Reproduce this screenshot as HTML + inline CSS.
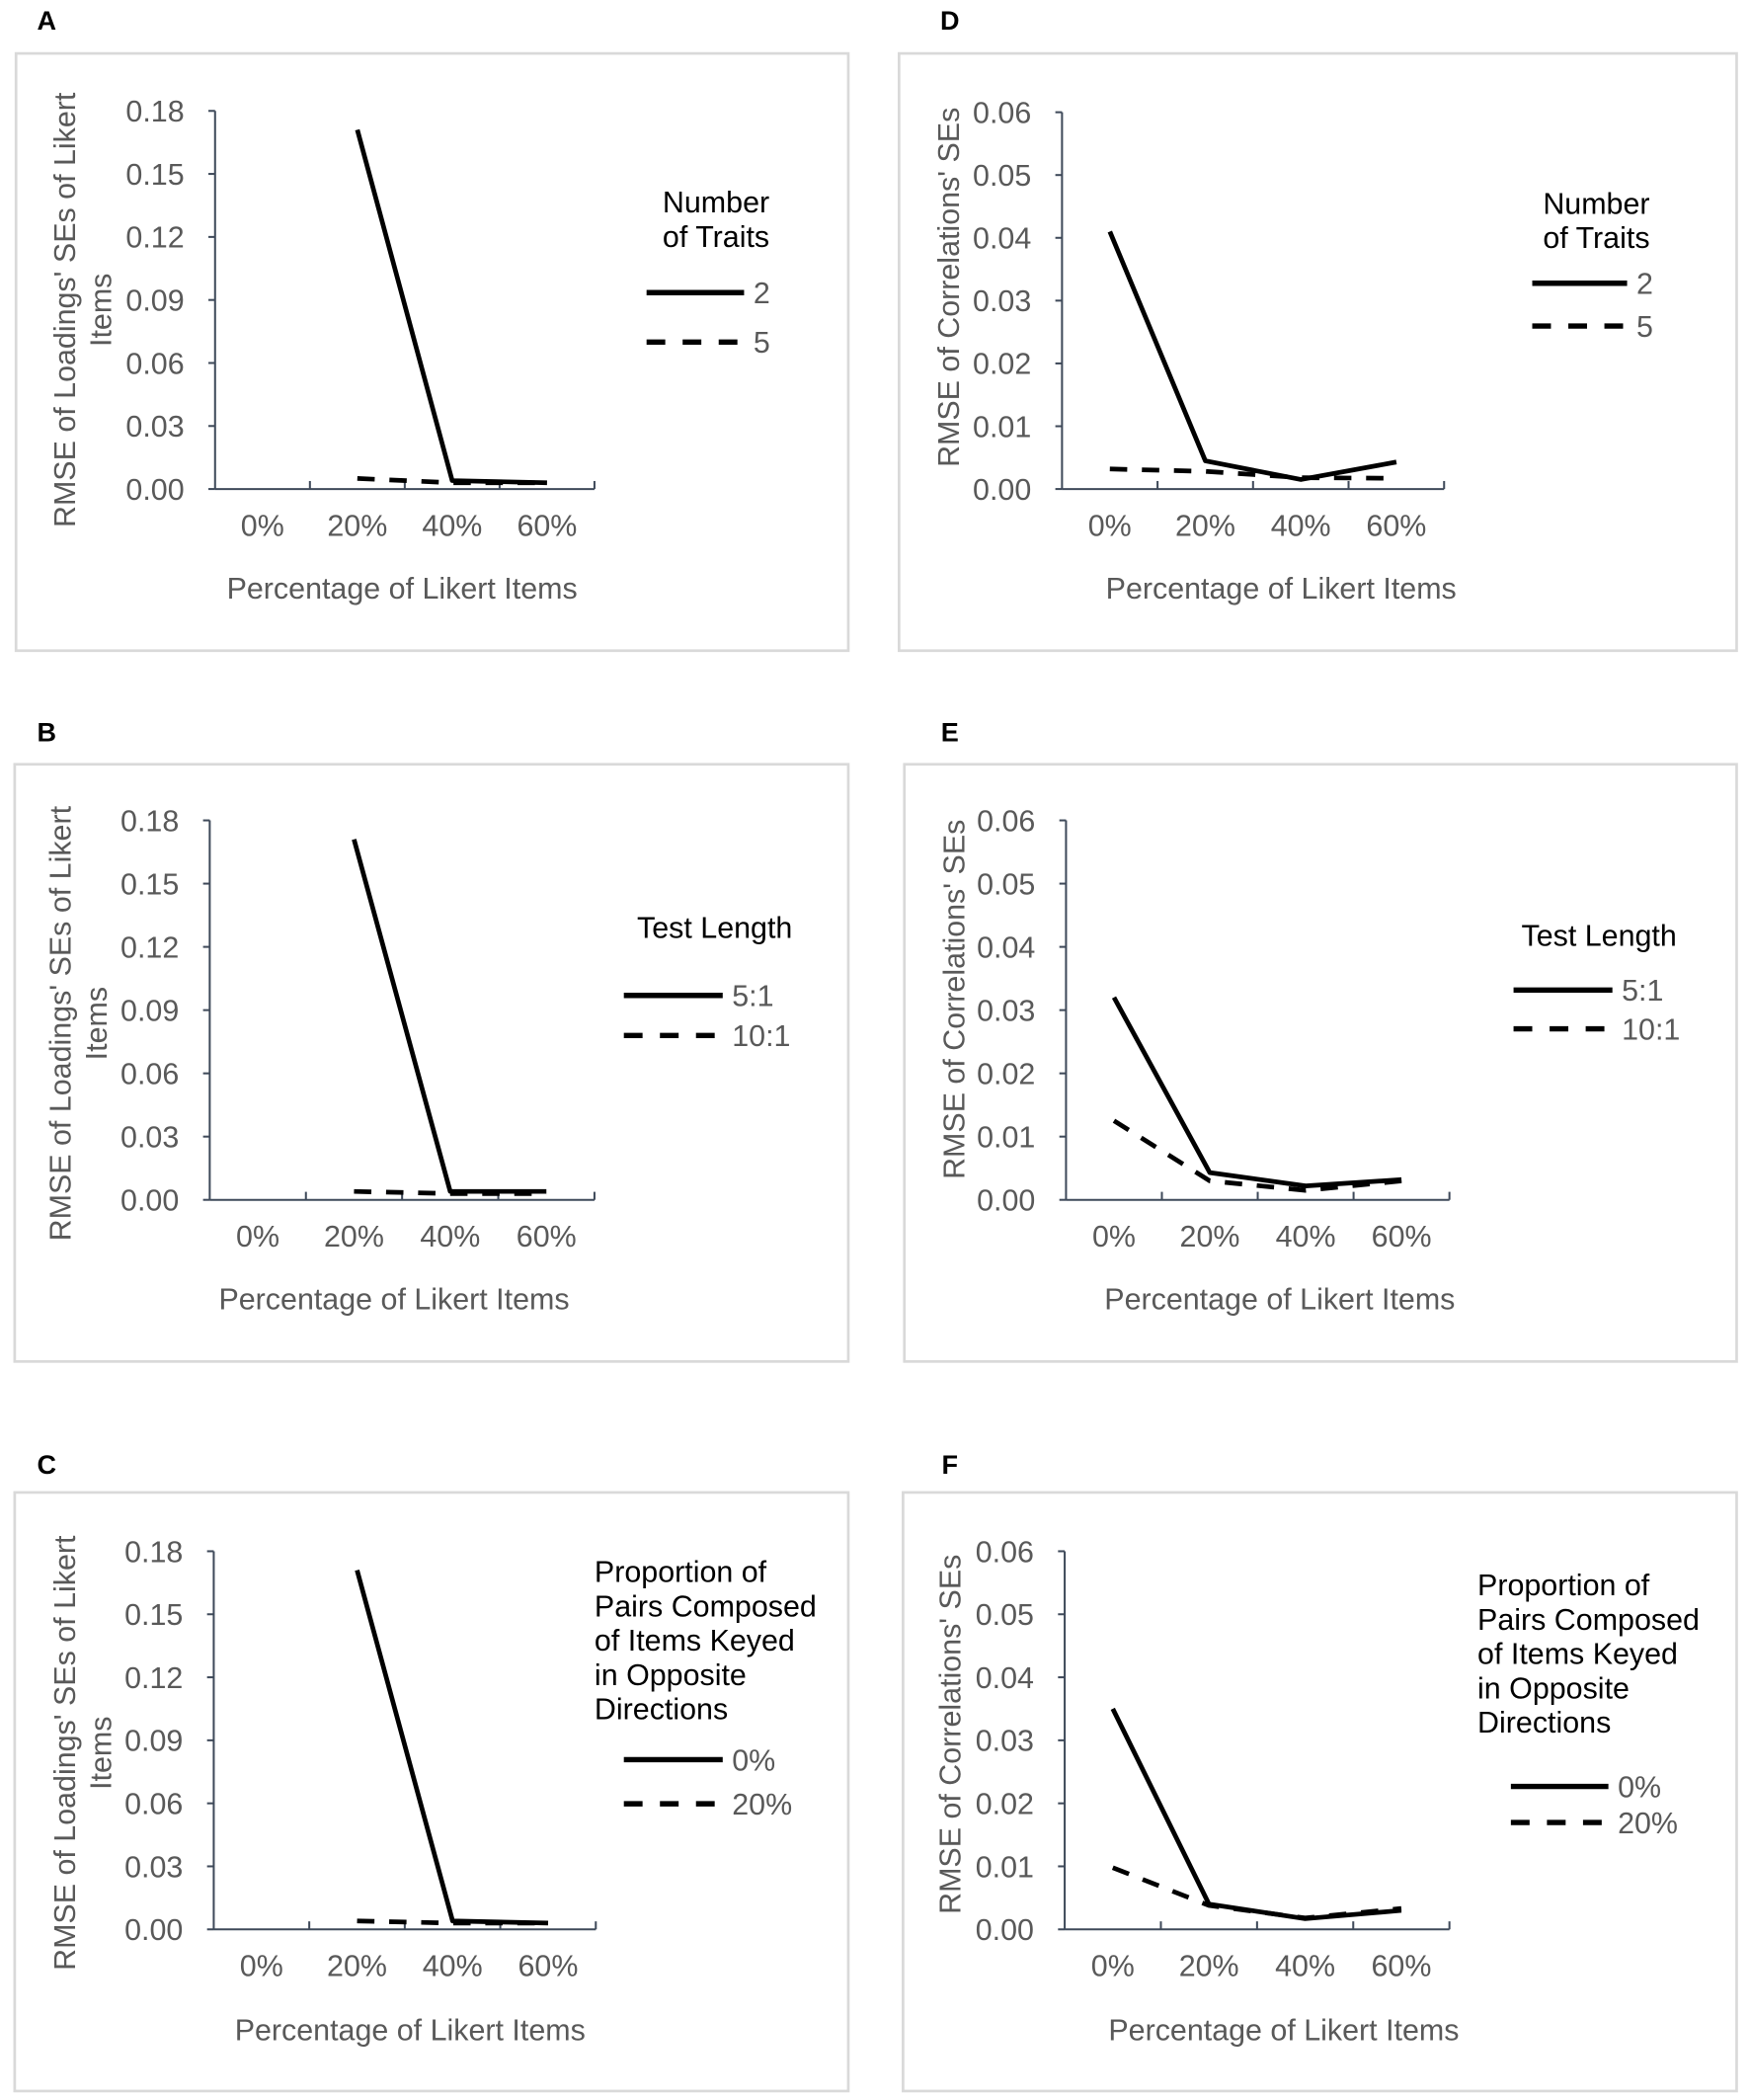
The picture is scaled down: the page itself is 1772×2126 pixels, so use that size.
<!DOCTYPE html>
<html><head><meta charset="utf-8"><style>
html,body{margin:0;padding:0;background:#fff;}
svg{display:block;}
text{font-family:"Liberation Sans",sans-serif;}
</style></head><body>
<svg id="fig" width="1772" height="2126" viewBox="0 0 1310 1571.7" preserveAspectRatio="none" xmlns="http://www.w3.org/2000/svg"></svg>
<script>
const categories = ["0%","20%","40%","60%"];
const loadTicks = ["0.00","0.03","0.06","0.09","0.12","0.15","0.18"];
const corrTicks = ["0.00","0.01","0.02","0.03","0.04","0.05","0.06"];
const aSolid = [null,0.171,0.004,0.003];
const aDashed = [null,0.005,0.003,0.003];
const bSolid = [null,0.171,0.004,0.004];
const bDashed = [null,0.004,0.003,0.003];
const cSolid = [null,0.171,0.004,0.003];
const cDashed = [null,0.004,0.003,0.003];
const dSolid = [0.041,0.0045,0.0015,0.0043];
const dDashed = [0.0032,0.0028,0.0018,0.0017];
const eSolid = [0.032,0.0043,0.0022,0.0032];
const eDashed = [0.0125,0.003,0.0015,0.003];
const fSolid = [0.035,0.004,0.0017,0.003];
const fDashed = [0.0098,0.0038,0.0018,0.0033];
const aLegend = ["2","5"], bLegend = ["5:1","10:1"], cLegend = ["0%","20%"];
const dLegend = ["2","5"], eLegend = ["5:1","10:1"], fLegend = ["0%","20%"];

const NS = "http://www.w3.org/2000/svg";
const svg = document.getElementById('fig');
function mk(tag, attrs, parent, txt){
  const e = document.createElementNS(NS, tag);
  for (const k in attrs) e.setAttribute(k, attrs[k]);
  if (txt !== undefined) e.textContent = txt;
  (parent||svg).appendChild(e);
  return e;
}
const FS = 22.5;
const panels = [
 {id:'a',letter:'A',lx:35,ly:15,box:[12,40,623,447],ax:161,ar:445,top:83,bot:366,max:0.18,ticks:loadTicks,
  yl:["RMSE of Loadings' SEs of Likert","Items"],ylx:48,yly:232,xt:301,tickY:393,titleY:440,
  solid:aSolid,dashed:aDashed,legTitle:["Number","of Traits"],legTitleX:536,legTitleY:151,legAnchor:'middle',
  legX1:484,legX2:557,legY:[219,256],leg:aLegend},
 {id:'d',letter:'D',lx:711,ly:15,box:[673,40,627,447],ax:795,ar:1081,top:84,bot:366,max:0.06,ticks:corrTicks,
  yl:["RMSE of Correlations' SEs"],ylx:710,yly:215,xt:959,tickY:393,titleY:440,
  solid:dSolid,dashed:dDashed,legTitle:["Number","of Traits"],legTitleX:1195,legTitleY:152,legAnchor:'middle',
  legX1:1147,legX2:1218,legY:[212,244],leg:dLegend},
 {id:'b',letter:'B',lx:35,ly:548,box:[11,572,624,447],ax:157,ar:445,top:614,bot:898,max:0.18,ticks:loadTicks,
  yl:["RMSE of Loadings' SEs of Likert","Items"],ylx:45,yly:766,xt:295,tickY:925,titleY:972,
  solid:bSolid,dashed:bDashed,legTitle:["Test Length"],legTitleX:535,legTitleY:694,legAnchor:'middle',
  legX1:467,legX2:541,legY:[745,775],leg:bLegend},
 {id:'e',letter:'E',lx:711,ly:548,box:[677,572,623,447],ax:798,ar:1085,top:614,bot:898,max:0.06,ticks:corrTicks,
  yl:["RMSE of Correlations' SEs"],ylx:714,yly:748,xt:958,tickY:925,titleY:972,
  solid:eSolid,dashed:eDashed,legTitle:["Test Length"],legTitleX:1197,legTitleY:700,legAnchor:'middle',
  legX1:1133,legX2:1207,legY:[741,770],leg:eLegend},
 {id:'c',letter:'C',lx:35,ly:1096,box:[11,1117,624,448],ax:160,ar:446,top:1161,bot:1444,max:0.18,ticks:loadTicks,
  yl:["RMSE of Loadings' SEs of Likert","Items"],ylx:48,yly:1312,xt:307,tickY:1471,titleY:1519,
  solid:cSolid,dashed:cDashed,legTitle:["Proportion of","Pairs Composed","of Items Keyed","in Opposite","Directions"],legTitleX:445,legTitleY:1176,legAnchor:'start',
  legX1:467,legX2:541,legY:[1317,1350],leg:cLegend},
 {id:'f',letter:'F',lx:711,ly:1096,box:[676,1117,624,448],ax:797,ar:1085,top:1161,bot:1444,max:0.06,ticks:corrTicks,
  yl:["RMSE of Correlations' SEs"],ylx:711,yly:1298,xt:961,tickY:1471,titleY:1519,
  solid:fSolid,dashed:fDashed,legTitle:["Proportion of","Pairs Composed","of Items Keyed","in Opposite","Directions"],legTitleX:1106,legTitleY:1186,legAnchor:'start',
  legX1:1131,legX2:1204,legY:[1337,1364],leg:fLegend}
];
const AX = '#3f4a5a', TXT = '#595959';
panels.forEach(p => {
  const g = mk('g', {});
  
  
  const lab = mk('text', {x:p.lx, y:p.ly+7, 'font-size':20, 'font-weight':'bold', 'text-anchor':'middle', fill:'#000'}, g, p.letter);
  
  
  const box = mk('rect', {x:p.box[0], y:p.box[1], width:p.box[2], height:p.box[3], fill:'none', stroke:'#d9d9d9', 'stroke-width':2}, g);
  
  
  const n = categories.length;
  const bw = (p.ar - p.ax) / n;
  const xS = i => p.ax + bw * (i + 0.5);
  const yS = v => p.bot - (v / p.max) * (p.bot - p.top);
  const ya = mk('line', {x1:p.ax, y1:p.top, x2:p.ax, y2:p.bot, stroke:AX, 'stroke-width':1.5}, g);
  
  
  p.ticks.forEach((t, i) => {
    const v = p.max * i / (p.ticks.length - 1);
    const y = yS(v);
    mk('line', {x1:p.ax-5, y1:y, x2:p.ax, y2:y, stroke:AX, 'stroke-width':1.5}, g);
    const tl = mk('text', {x:p.ax-23, y:y+8, 'font-size':FS, 'text-anchor':'end', fill:TXT}, g, t);
    
    
  });
  const xa = mk('line', {x1:p.ax, y1:p.bot, x2:p.ar, y2:p.bot, stroke:AX, 'stroke-width':1.5}, g);
  
  
  for (let i = 1; i <= n; i++) {
    mk('line', {x1:p.ax+bw*i, y1:p.bot, x2:p.ax+bw*i, y2:p.bot-6, stroke:AX, 'stroke-width':1.5}, g);
  }
  categories.forEach((c, i) => {
    const tl = mk('text', {x:xS(i), y:p.tickY+8, 'font-size':FS, 'text-anchor':'middle', fill:TXT}, g, c);
    
    
  });
  const xt = mk('text', {x:p.xt, y:p.titleY+8, 'font-size':FS, 'text-anchor':'middle', fill:TXT}, g, 'Percentage of Likert Items');
  
  
  const ytg = mk('g', {transform:'translate(' + p.ylx + ',' + p.yly + ') rotate(-90)'}, g);
  
  
  p.yl.forEach((l, i) => {
    mk('text', {x:0, y:8 + i*27, 'font-size':FS, 'text-anchor':'middle', fill:TXT}, ytg, l);
  });
  [[p.solid, null, 'series-solid'], [p.dashed, '13,11', 'series-dashed']].forEach(([arr, dash, name]) => {
    let pts = [];
    arr.forEach((v, i) => { if (v !== null) pts.push(xS(i).toFixed(1) + ',' + yS(v).toFixed(1)); });
    const attrs = {points:pts.join(' '), fill:'none', stroke:'#000', 'stroke-width':3.5, 'stroke-linejoin':'round'};
    if (dash) attrs['stroke-dasharray'] = dash;
    const pl = mk('polyline', attrs, g);
    
    
  });
  const lg = mk('g', {}, g);
  
  
  p.legTitle.forEach((l, i) => {
    mk('text', {x:p.legTitleX, y:p.legTitleY + 8 + i*25.7, 'font-size':FS, 'text-anchor':p.legAnchor, fill:'#000'}, lg, l);
  });
  p.leg.forEach((l, i) => {
    const ent = mk('g', {}, lg);
    
    
    const la = {x1:p.legX1, y1:p.legY[i], x2:p.legX2, y2:p.legY[i], stroke:'#000', 'stroke-width':4};
    if (i === 1) la['stroke-dasharray'] = '14,13';
    mk('line', la, ent);
    mk('text', {x:p.legX2+7, y:p.legY[i]+8, 'font-size':FS, fill:TXT}, ent, l);
  });
});
</script>
</body></html>
